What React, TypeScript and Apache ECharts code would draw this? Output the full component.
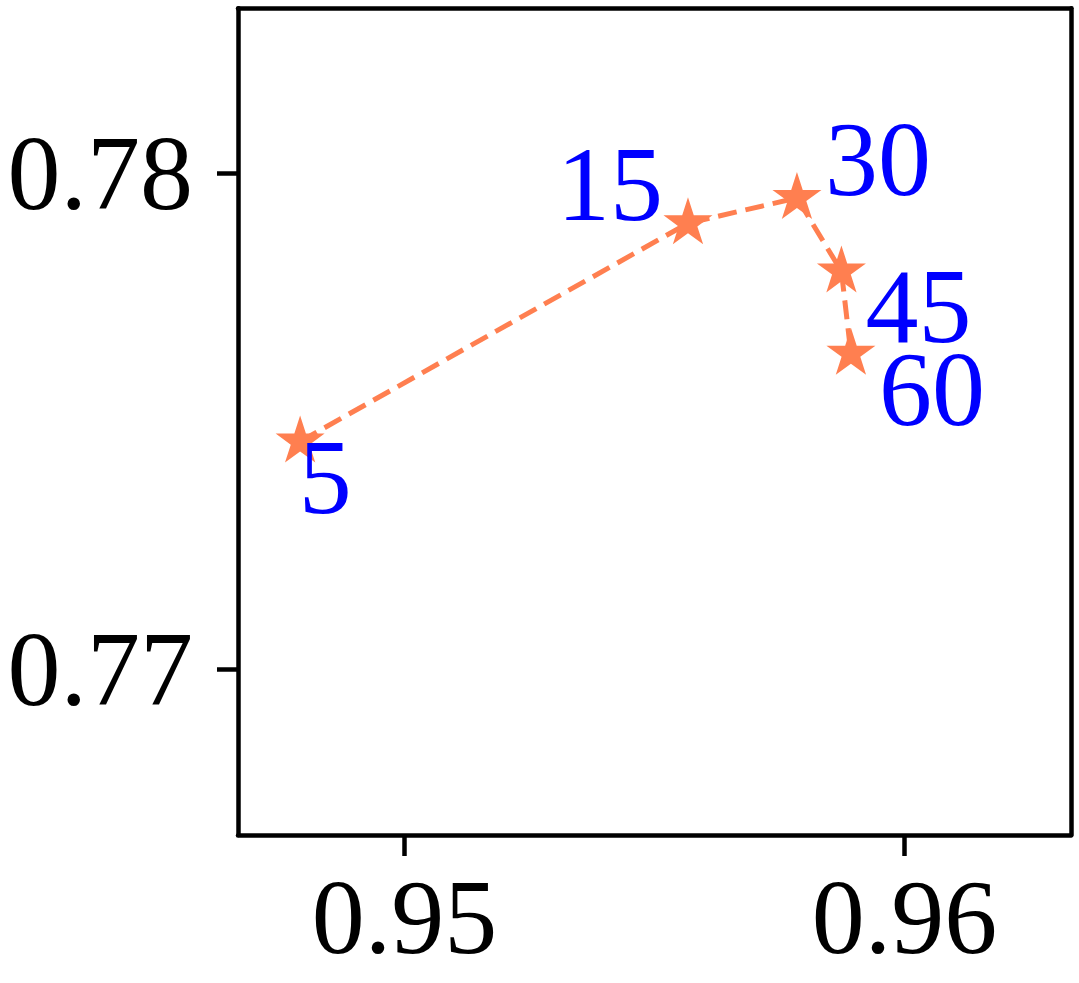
import React, { useEffect, useRef } from "react";
import * as echarts from "echarts";

// ---- data ----
const stepLabels = ["5", "15", "30", "45", "60"];
const xValues = [0.94791, 0.95567, 0.95785, 0.95874, 0.95893];
const yValues = [0.77460, 0.77900, 0.77951, 0.77803, 0.77637];
const xTicks = [0.95, 0.96];
const yTicks = [0.77, 0.78];
const xRange = [0.946667, 0.963333];
const yRange = [0.766667, 0.783333];

// label offsets (styling, pixels)
const labelOffsets: [number, number][] = [
  [25, 38],
  [-78, -36],
  [81, -36],
  [77, 38],
  [81, 38],
];

function starPath(): string {
  const pts: string[] = [];
  const inner = 0.381966;
  for (let i = 0; i < 10; i++) {
    const r = i % 2 === 0 ? 1 : inner;
    const a = (-90 + i * 36) * (Math.PI / 180);
    const x = (r * Math.cos(a)).toFixed(4);
    const y = (r * Math.sin(a)).toFixed(4);
    pts.push((i === 0 ? "M" : "L") + x + " " + y);
  }
  return "path://" + pts.join(" ") + " Z";
}

const FONT = "Liberation Serif";
const CORAL = "#FF7F50";
const FRAME = { show: true, lineStyle: { color: "#000", width: 4.5 } };

export default function App() {
  const ref = useRef<HTMLDivElement>(null);
  useEffect(() => {
    document.body.style.margin = "0";
    if (!ref.current) return;
    const chart = echarts.init(ref.current, null, { renderer: "svg" });
    const data = xValues.map((x, i) => ({
      value: [x, yValues[i]],
      name: stepLabels[i],
      label: { offset: labelOffsets[i] },
    }));
    const frameOnly = {
      axisLine: FRAME,
      axisTick: { show: false },
      axisLabel: { show: false },
      splitLine: { show: false },
    };
    chart.setOption({
      animation: false,
      backgroundColor: "#ffffff",
      grid: { left: 238, top: 8.3, right: 8, bottom: 148 },
      xAxis: [
        {
          type: "value",
          position: "bottom",
          min: xRange[0],
          max: xRange[1],
          axisLine: { ...FRAME, onZero: false },
          splitLine: { show: false },
          axisTick: {
            show: true,
            inside: false,
            length: 21,
            customValues: xTicks,
            lineStyle: { color: "#000", width: 4.5 },
          },
          axisLabel: {
            customValues: xTicks,
            formatter: (v: number) => v.toFixed(2),
            fontFamily: FONT,
            fontSize: 106,
            color: "#000",
            margin: 29,
          },
        },
        { type: "value", position: "top", min: xRange[0], max: xRange[1], ...frameOnly },
      ],
      yAxis: [
        {
          type: "value",
          position: "left",
          min: yRange[0],
          max: yRange[1],
          axisLine: { ...FRAME, onZero: false },
          splitLine: { show: false },
          axisTick: {
            show: true,
            inside: false,
            length: 21,
            customValues: yTicks,
            lineStyle: { color: "#000", width: 4.5 },
          },
          axisLabel: {
            customValues: yTicks,
            formatter: (v: number) => v.toFixed(2),
            fontFamily: FONT,
            fontSize: 106,
            color: "#000",
            margin: 45,
          },
        },
        { type: "value", position: "right", min: yRange[0], max: yRange[1], ...frameOnly },
      ],
      series: [
        {
          type: "line",
          xAxisIndex: 0,
          yAxisIndex: 0,
          data,
          symbol: starPath(),
          symbolSize: [49, 47],
          symbolOffset: [0, -2.4],
          itemStyle: { color: CORAL },
          lineStyle: { color: CORAL, width: 5, type: [19, 9] },
          label: {
            show: true,
            position: "inside",
            formatter: (p: any) => p.name,
            fontFamily: FONT,
            fontSize: 106,
            color: "#0000FF",
            align: "center",
            verticalAlign: "middle",
          },
          z: 3,
        },
      ],
    });
    return () => chart.dispose();
  }, []);
  return <div ref={ref} style={{ width: 1079, height: 983 }} />;
}
